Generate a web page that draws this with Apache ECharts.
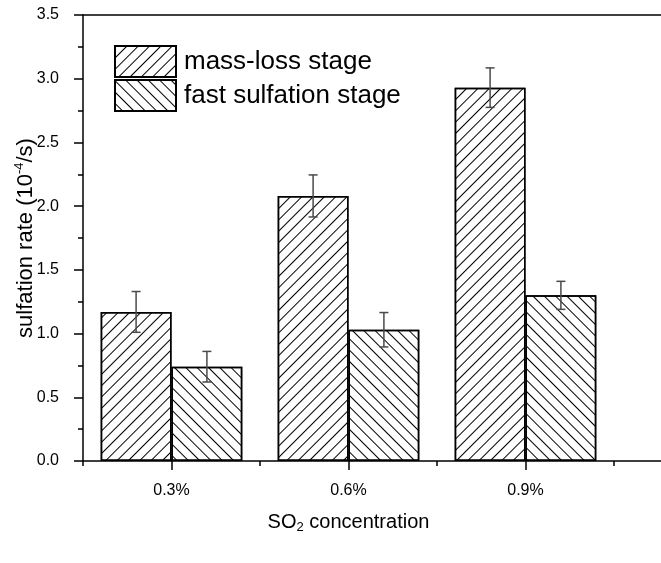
<!DOCTYPE html>
<html>
<head>
<meta charset="utf-8">
<script src="https://cdn.jsdelivr.net/npm/echarts@6/dist/echarts.min.js"></script>
<style>
html,body{margin:0;padding:0;background:#fff;}
#chart{width:661px;height:563px;}
</style>
</head>
<body>
<div id="chart"></div>
<script>
// ---- data ----
const categories = ['0.3%', '0.6%', '0.9%'];
const massLoss = [1.17, 2.08, 2.93];
const massLossErr = [0.16, 0.165, 0.155];
const fastSulf = [0.74, 1.03, 1.30];
const fastSulfErr = [0.12, 0.135, 0.11];
const seriesNames = ['mass-loss stage', 'fast sulfation stage'];

const FONT = 'Liberation Sans, Arial, sans-serif';
const CAT_GAP = 0.2;

function errData(vals, errs) {
  return vals.map((v, i) => [i, v - errs[i], v + errs[i]]);
}

function errRender(side) {
  return function (params, api) {
    const xi = api.value(0);
    const lo = api.coord([xi, api.value(1)]);
    const hi = api.coord([xi, api.value(2)]);
    const band = api.size([1, 0])[0];
    const barW = band * (1 - CAT_GAP) / 2;
    const x = lo[0] + side * barW / 2;
    const hw = 4.5;
    const st = { stroke: '#4a4a4a', lineWidth: 1.5 };
    return {
      type: 'group',
      children: [
        { type: 'line', shape: { x1: x, y1: lo[1], x2: x, y2: hi[1] }, style: st },
        { type: 'line', shape: { x1: x - hw, y1: lo[1], x2: x + hw, y2: lo[1] }, style: st },
        { type: 'line', shape: { x1: x - hw, y1: hi[1], x2: x + hw, y2: hi[1] }, style: st }
      ]
    };
  };
}

const chart = echarts.init(document.getElementById('chart'), null, { renderer: 'canvas' });

const axisLineStyle = { color: '#000', width: 1.5 };
const GRID_TOP = 15, GRID_BOTTOM = 102, GRID_LEFT = 83;

chart.setOption({
  animation: false,
  backgroundColor: '#fff',
  textStyle: { fontFamily: FONT, color: '#000' },
  grid: [
    { left: GRID_LEFT, top: GRID_TOP, width: 531, bottom: GRID_BOTTOM, containLabel: false },
    { left: GRID_LEFT, top: GRID_TOP, right: 0, bottom: GRID_BOTTOM, containLabel: false }
  ],
  legend: {
    data: seriesNames,
    orient: 'vertical',
    left: 109,
    top: 40,
    itemWidth: 61,
    itemHeight: 31,
    itemGap: 1,
    icon: 'rect',
    textStyle: { fontSize: 26, lineHeight: 30, color: '#000', fontFamily: FONT, padding: [0, 0, 0, 3] }
  },
  xAxis: [
    {
      gridIndex: 0,
      type: 'category',
      data: categories,
      position: 'bottom',
      boundaryGap: true,
      axisLine: { show: false },
      axisTick: { show: true, alignWithLabel: true, inside: false, length: 9, lineStyle: axisLineStyle },
      axisLabel: { fontSize: 16, color: '#000', margin: 22, fontFamily: FONT },
      splitLine: { show: false },
      name: '{a|SO}{sub|2}{a| concentration}',
      nameLocation: 'middle',
      nameGap: 49,
      nameMoveOverlap: false,
      nameTextStyle: {
        fontFamily: FONT,
        color: '#000',
        rich: {
          a: { fontSize: 20, lineHeight: 24, fontFamily: FONT, color: '#000' },
          sub: { fontSize: 13, lineHeight: 13, verticalAlign: 'bottom', fontFamily: FONT, color: '#000' }
        }
      }
    },
    {
      gridIndex: 0,
      type: 'category',
      data: categories,
      position: 'bottom',
      boundaryGap: true,
      axisLine: { show: false },
      axisTick: { show: true, alignWithLabel: false, inside: false, length: 5, lineStyle: axisLineStyle },
      axisLabel: { show: false },
      splitLine: { show: false }
    },
    {
      gridIndex: 1,
      type: 'value',
      min: 0, max: 1,
      position: 'bottom',
      axisLine: { show: true, onZero: false, lineStyle: axisLineStyle },
      axisTick: { show: false },
      axisLabel: { show: false },
      splitLine: { show: false }
    },
    {
      gridIndex: 1,
      type: 'value',
      min: 0, max: 1,
      position: 'top',
      axisLine: { show: true, onZero: false, lineStyle: axisLineStyle },
      axisTick: { show: false },
      axisLabel: { show: false },
      splitLine: { show: false }
    }
  ],
  yAxis: [
    {
      gridIndex: 0,
      type: 'value',
      min: 0,
      max: 3.5,
      interval: 0.5,
      axisLine: { show: true, lineStyle: axisLineStyle },
      axisTick: { show: true, inside: false, length: 9, lineStyle: axisLineStyle },
      minorTick: { show: true, splitNumber: 2, length: 5, lineStyle: axisLineStyle },
      axisLabel: { fontSize: 16, color: '#000', margin: 24, fontFamily: FONT, formatter: v => v.toFixed(1) },
      splitLine: { show: false },
      minorSplitLine: { show: false },
      name: '{a|sulfation rate (10}{sup|-4}{a|/s)}',
      nameLocation: 'middle',
      nameGap: 44,
      nameMoveOverlap: false,
      nameRotate: 90,
      nameTextStyle: {
        fontFamily: FONT,
        color: '#000',
        rich: {
          a: { fontSize: 22, lineHeight: 26, fontFamily: FONT, color: '#000' },
          sup: { fontSize: 13, lineHeight: 13, verticalAlign: 'top', fontFamily: FONT, color: '#000' }
        }
      }
    },
    {
      gridIndex: 1,
      type: 'value',
      min: 0, max: 1,
      show: false
    }
  ],
  series: [
    {
      name: seriesNames[0],
      type: 'bar',
      xAxisIndex: 0,
      yAxisIndex: 0,
      data: massLoss,
      barGap: '0%',
      barCategoryGap: (CAT_GAP * 100) + '%',
      itemStyle: {
        color: '#fff',
        borderColor: '#000',
        borderWidth: 1.5,
        decal: { symbol: 'rect', color: '#000', dashArrayX: [1, 0], dashArrayY: [1, 6.2], rotation: -Math.PI / 4 }
      },
      emphasis: { disabled: true }
    },
    {
      name: seriesNames[1],
      type: 'bar',
      xAxisIndex: 0,
      yAxisIndex: 0,
      data: fastSulf,
      barGap: '0%',
      barCategoryGap: (CAT_GAP * 100) + '%',
      itemStyle: {
        color: '#fff',
        borderColor: '#000',
        borderWidth: 1.5,
        decal: { symbol: 'rect', color: '#000', dashArrayX: [1, 0], dashArrayY: [1, 6.2], rotation: Math.PI / 4 }
      },
      emphasis: { disabled: true }
    },
    {
      name: 'err1',
      type: 'custom',
      xAxisIndex: 0,
      yAxisIndex: 0,
      data: errData(massLoss, massLossErr),
      encode: { x: 0, y: [1, 2] },
      renderItem: errRender(-1),
      z: 5
    },
    {
      name: 'err2',
      type: 'custom',
      xAxisIndex: 0,
      yAxisIndex: 0,
      data: errData(fastSulf, fastSulfErr),
      encode: { x: 0, y: [1, 2] },
      renderItem: errRender(1),
      z: 5
    }
  ]
});
</script>
</body>
</html>
